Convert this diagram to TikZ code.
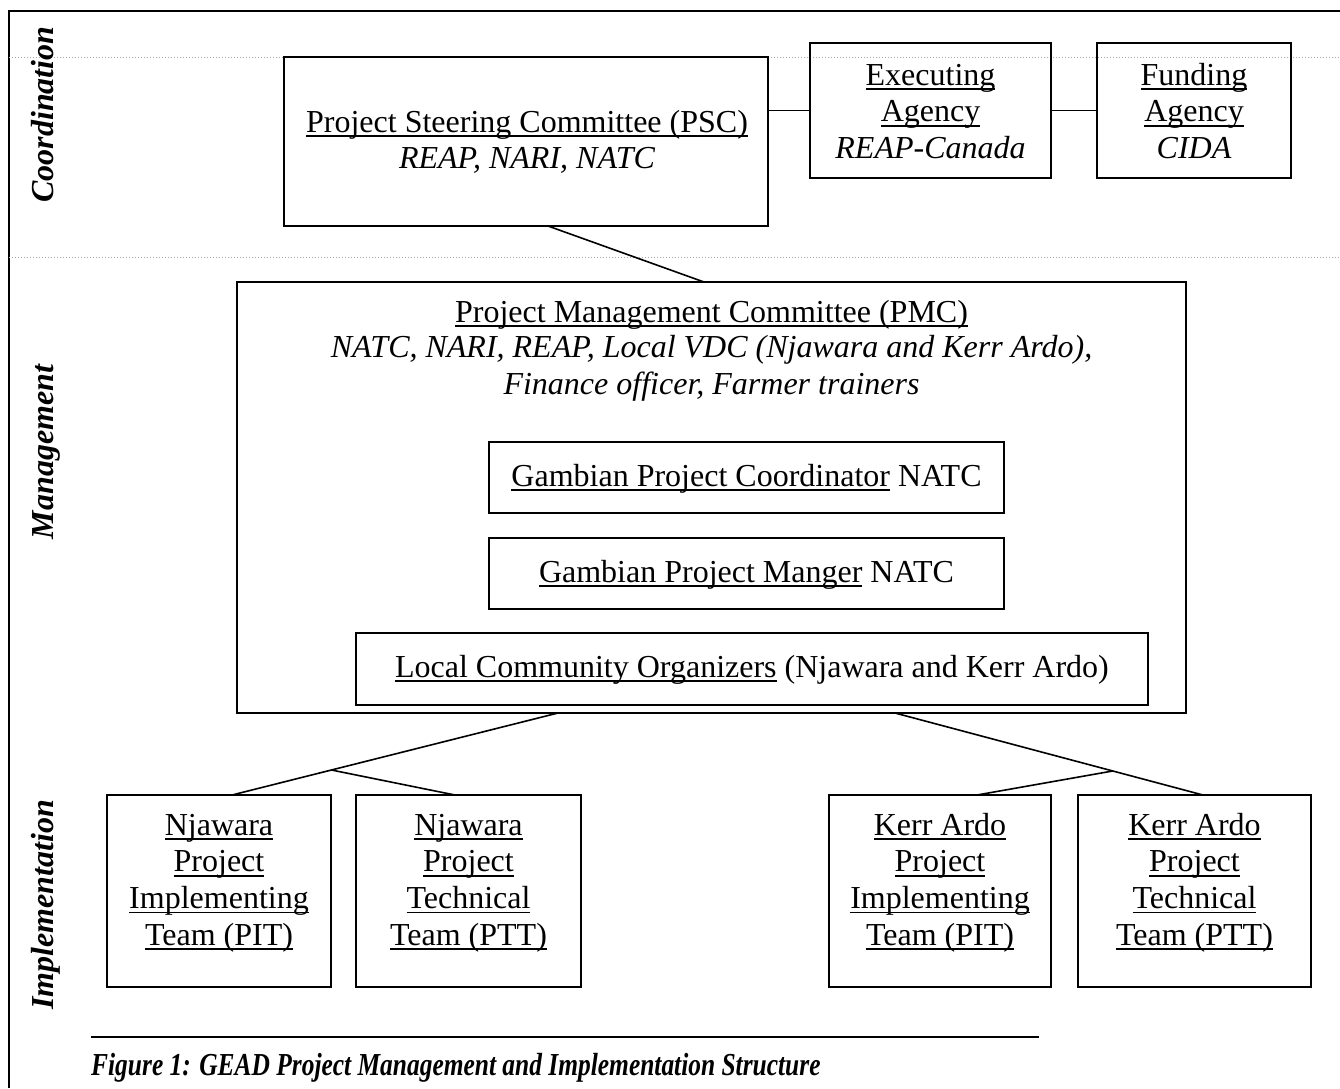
\documentclass[tikz,border=0pt]{standalone}
\usepackage{fontspec}
\usepackage{graphicx}
\setmainfont{Liberation Serif}
\usetikzlibrary{calc}
\newsavebox\ulbox
\newcommand\myul[1]{\sbox\ulbox{#1}\rlap{\rule[-5pt]{\wd\ulbox}{1.8pt}}\usebox\ulbox}
\newcommand\fs{\fontsize{32}{36.7}\selectfont}
\begin{document}
\begin{tikzpicture}[x=1pt,y=-1pt,
  box/.style n args={2}{draw, line width=1.6pt, inner sep=0pt, outer sep=0pt, minimum width=#1pt, minimum height=#2pt},
  lbl/.style={anchor=base, inner sep=0pt, font=\fs},
  side/.style={anchor=base, inner sep=0pt, rotate=90, font=\fs\bfseries\itshape},
  conn/.style={line width=1.6pt},
  guide/.style={draw=gray!70, line width=1pt, dash pattern=on 1.2pt off 1.8pt}]
\useasboundingbox (0,0) rectangle (1340,1088);
% frame and guide lines
\draw[line width=2pt] (9,1088) -- (9,11) -- (1340,11);
\draw[guide] (9,57) -- (1340,57);
\draw[guide] (9,257) -- (1340,257);
% side labels
\node[side] (lcoord) at (53,114.5) {Coordination};
\node[side] (lmanag) at (53,452) {Management};
\node[side] (limpl) at (53,905) {Implementation};
% boxes
\node[box={484}{169}] (psc) at (526,141.5) {};
\node[box={241}{135}] (exec) at (930.5,110.5) {};
\node[box={194}{135}] (fund) at (1194,110.5) {};
\node[box={949}{431}] (pmc) at (711.5,497.5) {};
\node[box={515}{71}] (gpc) at (746.5,477.5) {};
\node[box={515}{71}] (gpm) at (746.5,573.5) {};
\node[box={792}{72}] (lco) at (752,669) {};
\node[box={224}{192}] (b1) at (219,891) {};
\node[box={225}{192}] (b2) at (468.5,891) {};
\node[box={222}{192}] (b3) at (940,891) {};
\node[box={233}{192}] (b4) at (1194.5,891) {};
% texts
\node[lbl] (psct1) at (527,132) {\myul{Project Steering Committee (PSC)}};
\node[lbl] (psct2) at (527,168) {\itshape REAP, NARI, NATC};
\node[lbl] (ext1) at (930.5,85) {\myul{Executing}};
\node[lbl] (ext2) at (930.5,121.5) {\myul{Agency}};
\node[lbl] (ext3) at (930.5,158) {\itshape REAP-Canada};
\node[lbl] (fut1) at (1194,85) {\myul{Funding}};
\node[lbl] (fut2) at (1194,121.5) {\myul{Agency}};
\node[lbl] (fut3) at (1194,158) {\itshape CIDA};
\node[lbl] (pmct1) at (711.5,322) {\myul{Project Management Committee (PMC)}};
\node[lbl] (pmct2) at (711.5,357) {\itshape NATC, NARI, REAP, Local VDC (Njawara and Kerr Ardo),};
\node[lbl] (pmct3) at (711.5,394) {\itshape Finance officer, Farmer trainers};
\node[lbl] (gpct) at (746.5,486) {\myul{Gambian Project Coordinator} NATC};
\node[lbl] (gpmt) at (746.5,582) {\myul{Gambian Project Manger} NATC};
\node[lbl] (lcot) at (752,677) {\myul{Local Community Organizers} (Njawara and Kerr Ardo)};
\foreach \b/\cx/\pa/\pb/\pc/\pd in {b1/219/Njawara/Project/Implementing/Team (PIT),
  b2/468.5/Njawara/Project/Technical/Team (PTT),
  b3/940/Kerr Ardo/Project/Implementing/Team (PIT),
  b4/1194.5/Kerr Ardo/Project/Technical/Team (PTT)}{
  \node[lbl] (\b t1) at (\cx,835) {\myul{\pa}};
  \node[lbl] (\b t2) at (\cx,871.7) {\myul{\pb}};
  \node[lbl] (\b t3) at (\cx,908.3) {\myul{\pc}};
  \node[lbl] (\b t4) at (\cx,945) {\myul{\pd}};
}
% connectors
\draw[conn] (exec.west) -- (exec.west -| psc.east);
\draw[conn] (fund.west) -- (fund.west -| exec.east);
\draw[conn] ([xshift=264pt]psc.south west) -- ([xshift=467pt]pmc.north west);
\coordinate (la) at ([xshift=321pt]pmc.south west);
\coordinate (lb) at ([xshift=125pt]b1.north west);
\coordinate (lj) at ($(la)!0.695!(lb)$);
\draw[conn] (la) -- (lb);
\draw[conn] (lj) -- ([xshift=99pt]b2.north west);
\coordinate (ra) at ([xshift=658pt]pmc.south west);
\coordinate (rb) at ([xshift=125pt]b4.north west);
\coordinate (rj) at ($(ra)!0.707!(rb)$);
\draw[conn] (ra) -- (rb);
\draw[conn] (rj) -- ([xshift=148pt]b3.north west);
% caption
\node[anchor=base west, inner sep=0pt, font=\fs\bfseries\itshape] (cap) at (91,1075) {\scalebox{0.795}[1]{Figure 1: GEAD Project Management and Implementation Structure}};
\coordinate (capl) at (91,1037);
\draw[line width=1.2pt] (capl) -- (1039,1037);
\end{tikzpicture}
\end{document}
